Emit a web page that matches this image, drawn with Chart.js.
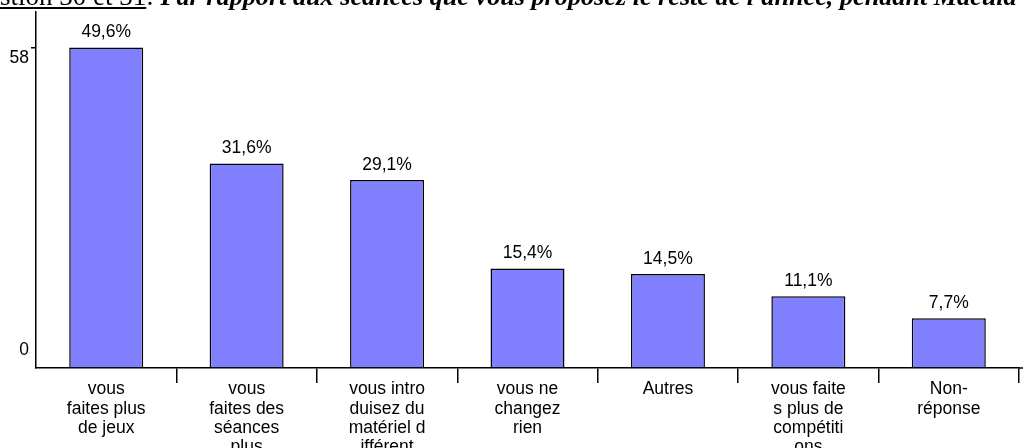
<!DOCTYPE html>
<html>
<head>
<meta charset="utf-8">
<script src="https://cdn.jsdelivr.net/npm/chart.js@4.4.0/dist/chart.umd.min.js"></script>
<style>
body { margin: 0; background: #fff; }
#wrap { position: relative; width: 1023px; height: 448px; overflow: hidden; }
#title { position: absolute; left: 0; top: -17px; font-family: "Liberation Serif", serif; font-size: 27px; line-height: 27px; white-space: nowrap; color: #000; }
#title b { font-style: italic; font-size: 26.2px; }
</style>
</head>
<body>
<div id="wrap">
<canvas id="chart" width="1023" height="448"></canvas>
<div id="title"><u>stion 30 et 31</u>: <b>Par rapport aux séances que vous proposez le reste de l'année, pendant Macula</b></div>
</div>
<script>
const categories = [
    ["vous", "faites plus", "de jeux"],
    ["vous", "faites des", "séances", "plus"],
    ["vous intro", "duisez du", "matériel d", "ifférent"],
    ["vous ne", "changez", "rien"],
    ["Autres"],
    ["vous faite", "s plus de", "compétiti", "ons"],
    ["Non-", "réponse"]
];
const counts = [58, 37, 34, 18, 17, 13, 9];
const percents = ["49,6%", "31,6%", "29,1%", "15,4%", "14,5%", "11,1%", "7,7%"];
const y_ticks = [0, 58];
const y_max = 64.4;

const font_name = "'Liberation Sans', Arial, sans-serif";

// percent labels above the bars + y tick labels (offset like the original)
const labels_plugin = {
    id: "labels",
    afterDatasetsDraw(chart) {
        const ctx = chart.ctx;
        ctx.save();
        ctx.font = "17.5px " + font_name;
        ctx.fillStyle = "#000";
        ctx.textAlign = "center";
        ctx.textBaseline = "middle";
        chart.getDatasetMeta(0).data.forEach((bar, i) => {
            ctx.fillText(percents[i], bar.x, bar.y - 15);
        });
        const y = chart.scales.y;
        ctx.textAlign = "right";
        y_ticks.forEach(v => {
            const off = v === 0 ? -18 : 11;
            ctx.fillText(String(v), 29, y.getPixelForValue(v) + off);
        });
        // axis line runs on to the right edge
        const x = chart.scales.x;
        ctx.strokeStyle = "#000";
        ctx.lineWidth = 1.5;
        ctx.beginPath();
        ctx.moveTo(x.right, x.top);
        ctx.lineTo(chart.width, x.top);
        ctx.stroke();
        ctx.restore();
    }
};

const chart = new Chart(document.getElementById("chart"), {
    type: "bar",
    data: {
        labels: categories,
        datasets: [{
            data: counts,
            backgroundColor: "#8080ff",
            borderColor: "#000",
            borderWidth: 1.5,
            barPercentage: 0.527,
            categoryPercentage: 1
        }]
    },
    options: {
        responsive: false,
        animation: false,
        layout: { padding: { top: 12, right: 4 } },
        plugins: { legend: { display: false }, tooltip: { enabled: false } },
        scales: {
            x: {
                afterFit: (scale) => { scale.height = 80; },
                grid: {
                    offset: true,
                    drawOnChartArea: false,
                    tickLength: 15,
                    lineWidth: 1.5,
                    color: (c) => c.index === 0 ? "transparent" : "#000"
                },
                border: { color: "#000", width: 1.5 },
                ticks: {
                    color: "#000",
                    font: { family: font_name, size: 17.5, lineHeight: 1.1 },
                    padding: -3,
                    maxRotation: 0,
                    autoSkip: false
                }
            },
            y: {
                min: 0,
                max: y_max,
                afterFit: (scale) => { scale.width = 36; },
                afterBuildTicks: (scale) => { scale.ticks = y_ticks.map(v => ({ value: v })); },
                grid: {
                    drawOnChartArea: false,
                    tickLength: 5,
                    lineWidth: 1.5,
                    color: (c) => (c.tick && c.tick.value === 0) ? "transparent" : "#000"
                },
                border: { color: "#000", width: 1.5 },
                ticks: { display: false }
            }
        }
    },
    plugins: [labels_plugin]
});
</script>
</body>
</html>
